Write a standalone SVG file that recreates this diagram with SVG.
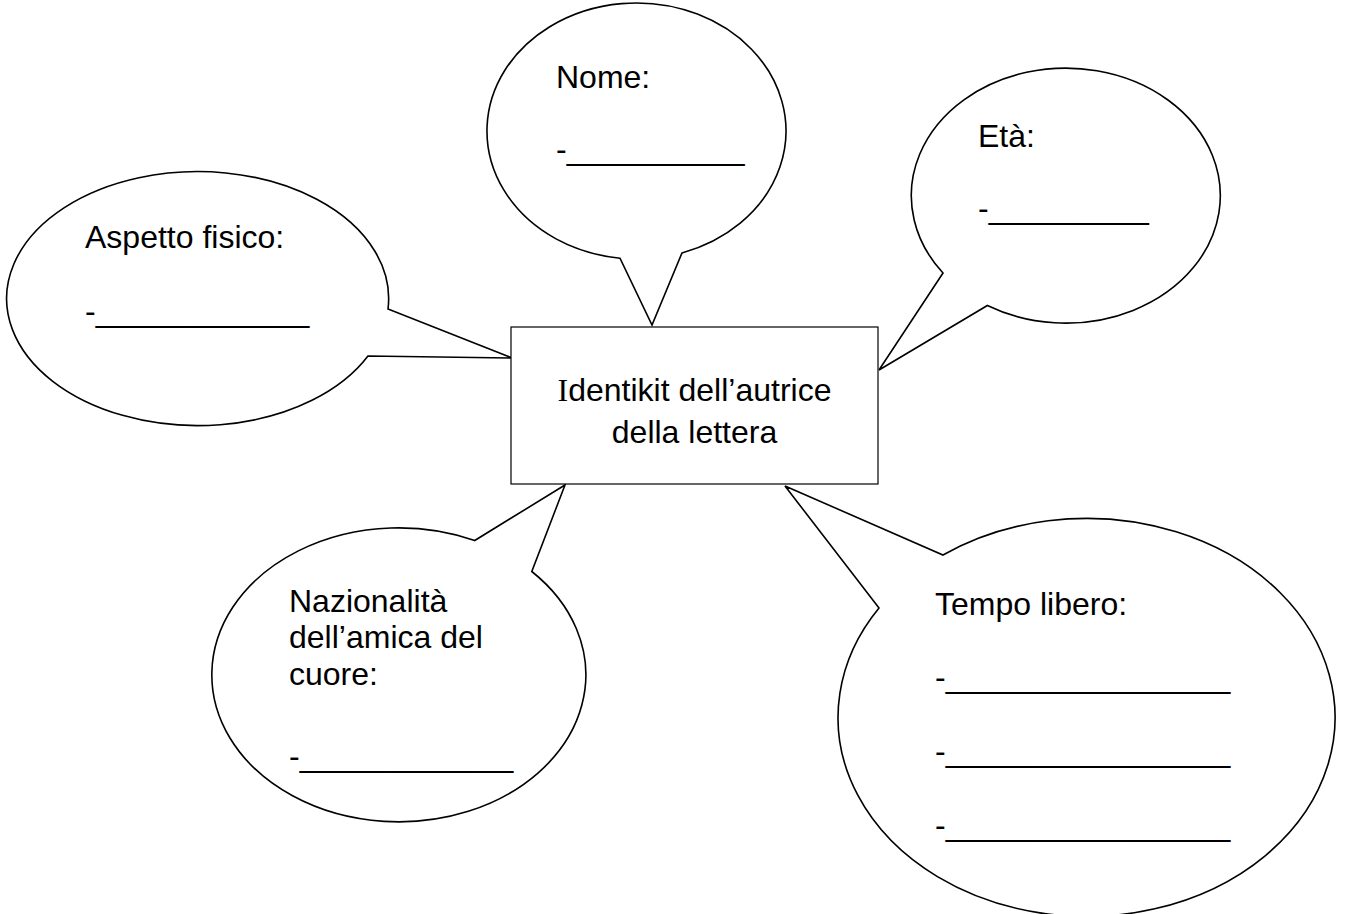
<svg xmlns="http://www.w3.org/2000/svg" width="1346" height="914" viewBox="0 0 1346 914">
  <style>
    .bubble { fill: #ffffff; stroke: #000000; stroke-width: 1.6; stroke-linejoin: miter; }
    .box { fill: #ffffff; stroke: #000000; stroke-width: 1.2; }
    .t { font-family: "Liberation Sans", Arial, sans-serif; font-size: 32px; fill: #000000; }
    .serif { font-family: "Liberation Serif", "Times New Roman", serif; }
  </style>
  <rect x="0" y="0" width="1346" height="914" fill="#ffffff"/>

  <g id="connectors"></g>

  <g id="node-nome">
    <path class="bubble" d="M 620 258.2 A 149.5 128 0 1 1 682 252.9 L 652 325 Z"/>
    <text class="t" x="556" y="88">Nome:</text>
    <text class="t" x="556" y="160">-__________</text>
  </g>

  <g id="node-eta">
    <path class="bubble" d="M 943 273 A 154.5 127.5 0 1 1 987.4 305.5 L 879 370 Z"/>
    <text class="t" x="978" y="147">Età:</text>
    <text class="t" x="978" y="219">-_________</text>
  </g>

  <g id="node-aspetto">
    <path class="bubble" d="M 368 356 A 191 127 0 1 1 388 309 L 512 358 Z"/>
    <text class="t" x="85" y="248">Aspetto fisico:</text>
    <text class="t" x="85" y="322">-____________</text>
  </g>

  <g id="node-nazionalita">
    <path class="bubble" d="M 531.8 571.5 A 187 147 0 1 1 474.7 540.5 L 565 485 Z"/>
    <text class="t" x="289" y="612">Nazionalità</text>
    <text class="t" x="289" y="648">dell’amica del</text>
    <text class="t" x="289" y="685">cuore:</text>
    <text class="t" x="289" y="767">-____________</text>
  </g>

  <g id="node-tempo">
    <path class="bubble" d="M 943 555 A 248.5 199 0 1 1 879 608 L 785 486 Z"/>
    <text class="t" x="935" y="615">Tempo libero:</text>
    <text class="t" x="935" y="688">-________________</text>
    <text class="t" x="935" y="762">-________________</text>
    <text class="t" x="935" y="836">-________________</text>
  </g>

  <g id="node-centro">
    <rect class="box" x="511" y="327" width="367" height="157"/>
    <text class="t" x="694.5" y="401" text-anchor="middle"><tspan class="serif">I</tspan>dentikit dell’autrice</text>
    <text class="t" x="694.5" y="443" text-anchor="middle">della lettera</text>
  </g>
</svg>
